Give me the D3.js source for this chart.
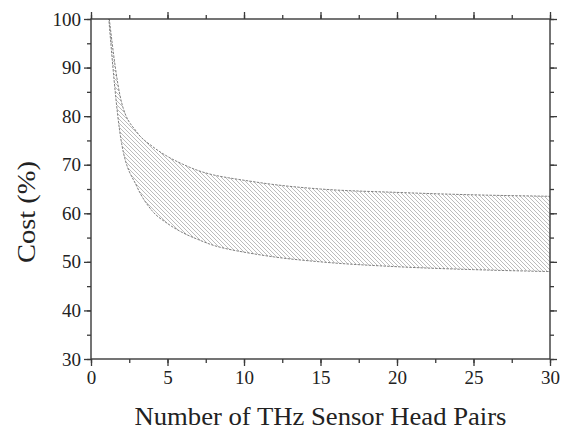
<!DOCTYPE html>
<html>
<head>
<meta charset="utf-8">
<script src="https://cdn.jsdelivr.net/npm/d3@7"></script>
<style>
  body { margin: 0; background: #fff; }
  svg { display: block; }
</style>
</head>
<body>
<div id="chart"></div>
<script>
// number of sensor head pairs and the two cost bounds (%)
let pairs = [1, 2, 3, 4, 5, 6, 7, 8, 9, 10, 12, 15, 20, 25, 30];
let upperCost = [105.4, 82.8, 76.7, 73.8, 71.7, 70.1, 68.8, 67.9, 67.3, 66.8, 65.9, 65.0, 64.3, 63.8, 63.5];
let lowerCost = [106.4, 74.4, 65.5, 60.5, 57.9, 56.0, 54.6, 53.4, 52.6, 52.0, 51.0, 50.0, 49.0, 48.4, 48.0];
let xTicks = [0, 5, 10, 15, 20, 25, 30];
let yTicks = [30, 40, 50, 60, 70, 80, 90, 100];

let width = 565, height = 429;
let margin = {top: 19, right: 15, bottom: 70, left: 91};

let svg = d3.select("#chart").append("svg")
    .attr("width", width)
    .attr("height", height);

let x = d3.scaleLinear().domain([0, 30]).range([margin.left, width - margin.right]);
let y = d3.scaleLinear().domain([30, 100]).range([height - margin.bottom, margin.top]);

let defs = svg.append("defs");
defs.append("clipPath").attr("id", "clip")
  .append("rect")
    .attr("x", x(0)).attr("y", y(100))
    .attr("width", x(30) - x(0)).attr("height", y(30) - y(100));

let pat = defs.append("pattern")
    .attr("id", "hatch")
    .attr("patternUnits", "userSpaceOnUse")
    .attr("width", 4).attr("height", 4);
pat.append("path")
    .attr("d", "M-1,-1 L5,5 M3,-1 L5,1 M-1,3 L1,5")
    .attr("stroke", "#ababab")
    .attr("stroke-width", 0.8);

let band = pairs.map((p, i) => ({n: p, hi: upperCost[i], lo: lowerCost[i]}));

let plot = svg.append("g").attr("clip-path", "url(#clip)");

plot.append("path")
    .datum(band)
    .attr("fill", "url(#hatch)")
    .attr("d", d3.area().curve(d3.curveMonotoneX)
        .x(d => x(d.n)).y0(d => y(d.lo)).y1(d => y(d.hi)));

let edge = (key) => d3.line().curve(d3.curveMonotoneX).x(d => x(d.n)).y(d => y(d[key]));
["hi", "lo"].forEach(k => {
  plot.append("path")
      .datum(band)
      .attr("fill", "none")
      .attr("stroke", "#808080")
      .attr("stroke-width", 1)
      .attr("stroke-dasharray", "2.5,1.2")
      .attr("d", edge(k));
});

// axes: major ticks labelled, minor ticks between
let axisColor = "#3a3a3a";
let font = "'Liberation Serif', 'Times New Roman', serif";
let xMinor = d3.range(0, 30.1, 2.5);
let yMinor = d3.range(30, 100.1, 5);

function styleAxis(g) {
  g.select(".domain").remove();
  g.selectAll("line").attr("stroke", axisColor).attr("stroke-width", 1.3);
  g.selectAll("text").attr("font-family", font).attr("font-size", 19).attr("fill", "#222");
}

svg.append("g").attr("transform", `translate(0,${y(30)})`)
    .call(d3.axisBottom(x).tickValues(xMinor).tickSize(4).tickFormat(""))
    .call(styleAxis);
svg.append("g").attr("transform", `translate(0,${y(30)})`)
    .call(d3.axisBottom(x).tickValues(xTicks).tickSize(7).tickPadding(5))
    .call(styleAxis);
svg.append("g").attr("transform", `translate(0,${y(100)})`)
    .call(d3.axisTop(x).tickValues(xMinor).tickSize(4).tickFormat(""))
    .call(styleAxis);
svg.append("g").attr("transform", `translate(0,${y(100)})`)
    .call(d3.axisTop(x).tickValues(xTicks).tickSize(7).tickFormat(""))
    .call(styleAxis);

svg.append("g").attr("transform", `translate(${x(0)},0)`)
    .call(d3.axisLeft(y).tickValues(yMinor).tickSize(4).tickFormat(""))
    .call(styleAxis);
svg.append("g").attr("transform", `translate(${x(0)},0)`)
    .call(d3.axisLeft(y).tickValues(yTicks).tickSize(7).tickPadding(3))
    .call(styleAxis);
svg.append("g").attr("transform", `translate(${x(30)},0)`)
    .call(d3.axisRight(y).tickValues(yMinor).tickSize(4).tickFormat(""))
    .call(styleAxis);
svg.append("g").attr("transform", `translate(${x(30)},0)`)
    .call(d3.axisRight(y).tickValues(yTicks).tickSize(7).tickFormat(""))
    .call(styleAxis);

svg.append("rect")
    .attr("x", x(0)).attr("y", y(100))
    .attr("width", x(30) - x(0)).attr("height", y(30) - y(100))
    .attr("fill", "none")
    .attr("stroke", axisColor)
    .attr("stroke-width", 1.4);

svg.append("text")
    .attr("x", (x(0) + x(30)) / 2)
    .attr("y", 425)
    .attr("text-anchor", "middle")
    .attr("font-family", font)
    .attr("font-size", 25)
    .attr("textLength", 372)
    .attr("lengthAdjust", "spacingAndGlyphs")
    .attr("fill", "#222")
    .text("Number of THz Sensor Head Pairs");

svg.append("text")
    .attr("transform", "translate(35,212) rotate(-90)")
    .attr("text-anchor", "middle")
    .attr("font-family", font)
    .attr("font-size", 25)
    .attr("textLength", 102)
    .attr("lengthAdjust", "spacingAndGlyphs")
    .attr("fill", "#222")
    .text("Cost (%)");
</script>
</body>
</html>
